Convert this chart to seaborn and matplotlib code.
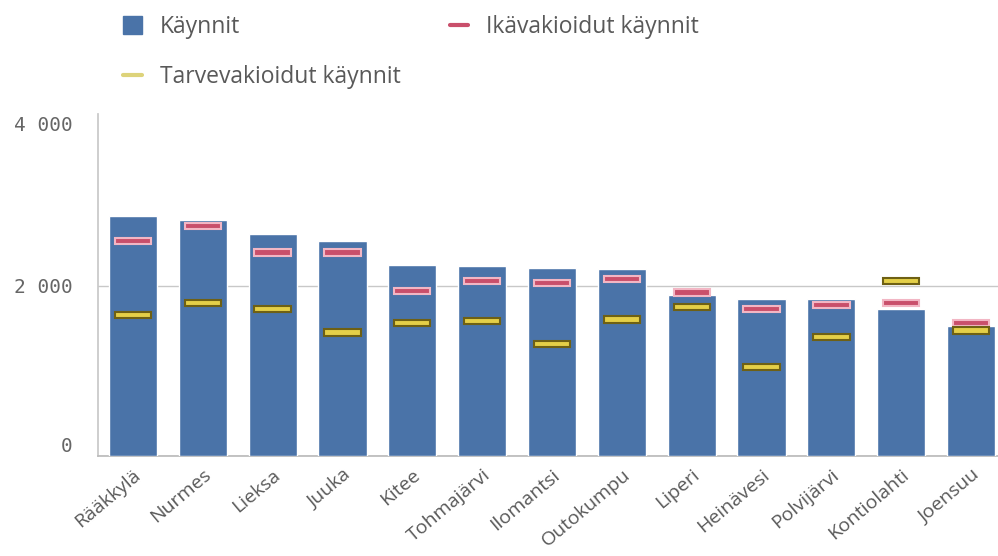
import matplotlib
matplotlib.use("Agg")
import matplotlib.pyplot as plt
import seaborn as sns
import pandas as pd
from matplotlib.lines import Line2D
from matplotlib.patches import Patch

kunnat = ["Rääkkylä", "Nurmes", "Lieksa", "Juuka", "Kitee", "Tohmajärvi", "Ilomantsi",
          "Outokumpu", "Liperi", "Heinävesi", "Polvijärvi", "Kontiolahti", "Joensuu"]
kaynnit = [2820, 2770, 2610, 2530, 2240, 2235, 2215, 2195, 1895, 1850, 1850, 1730, 1530]
ikavakioidut = [2530, 2700, 2390, 2390, 1940, 2060, 2035, 2080, 1920, 1730, 1775, 1800, 1565]
tarvevakioidut = [1660, 1800, 1730, 1450, 1565, 1590, 1320, 1605, 1750, 1045, 1400, 2060, 1475]
yticks = [0, 2000, 4000]
ytick_labels = ["0", "2 000", "4 000"]

df = pd.DataFrame({"kunta": kunnat, "kaynnit": kaynnit,
                   "ika": ikavakioidut, "tarve": tarvevakioidut})

sns.set_theme(style="white")
plt.rcParams["font.family"] = ["Open Sans", "DejaVu Sans"]

BLUE = "#4a73a8"
PINK = "#c94f6b"
PINK_EDGE = "#f2b6c4"
YELLOW = "#e4cf48"
YELLOW_EDGE = "#6e6014"
TXT = "#595959"

fig = plt.figure(figsize=(9.98, 5.56), dpi=100)
ax = fig.add_axes([98 / 998, 100 / 556, 908 / 998, 342 / 556])

sns.barplot(data=df, x="kunta", y="kaynnit", color=BLUE, width=0.69,
            saturation=1, ax=ax, zorder=3)

x = range(len(kunnat))
h = 75
ax.bar(x, [h] * len(kunnat), bottom=[v - h / 2 for v in ikavakioidut], width=0.52,
       color=PINK, edgecolor=PINK_EDGE, linewidth=1.5, zorder=4)
ax.bar(x, [h] * len(kunnat), bottom=[v - h / 2 for v in tarvevakioidut], width=0.52,
       color=YELLOW, edgecolor=YELLOW_EDGE, linewidth=1.5, zorder=5)

ax.set_ylim(0, 4020)
ax.set_xlim(-0.5, len(kunnat) - 0.5)
ax.set_xlabel("")
ax.set_ylabel("")
ax.set_yticks(yticks)
ax.set_yticklabels(ytick_labels, family="DejaVu Sans Mono", fontsize=14, color="#666666")
labs = ax.get_yticklabels()
labs[0].set_va("bottom")
labs[2].set_va("top")
ax.tick_params(axis="y", length=11, color="#bbbbbb", pad=7)
ax.yaxis.get_major_ticks()[2].tick1line.set_visible(False)
ax.yaxis.grid(True, color="#c8c8c8", linewidth=1, zorder=0)
ax.set_axisbelow(True)
gl = ax.get_ygridlines()
gl[2].set_visible(False)

ax.set_xticks(list(x))
ax.set_xticklabels(kunnat, rotation=40, ha="right", rotation_mode="anchor",
                   fontsize=14, color=TXT)
ax.tick_params(axis="x", length=0, pad=7)

for s in ["top", "right"]:
    ax.spines[s].set_visible(False)
ax.spines["left"].set_color("#c8c8c8")
ax.spines["bottom"].set_color("#bbbbbb")

handles = [Patch(facecolor=BLUE, edgecolor=BLUE),
           Line2D([0], [0], color=PINK, linewidth=3),
           Line2D([0], [0], color="#ddd37a", linewidth=3)]
labels = ["Käynnit", "Ikävakioidut käynnit", "Tarvevakioidut käynnit"]
common = dict(loc="center left", frameon=False, fontsize=16.5, labelcolor=TXT,
              borderpad=0, borderaxespad=0, handletextpad=0.75)
fig.legend(handles[:1], labels[:1], bbox_to_anchor=(123 / 998, 1 - 27 / 556),
           handlelength=0.85, handleheight=0.85, **common)
fig.legend(handles[1:2], labels[1:2], bbox_to_anchor=(450 / 998, 1 - 27 / 556),
           handlelength=0.8, **common)
fig.legend(handles[2:], labels[2:], bbox_to_anchor=(123 / 998, 1 - 77 / 556),
           handlelength=0.85, **common)

fig.savefig("out.png", dpi=100)
